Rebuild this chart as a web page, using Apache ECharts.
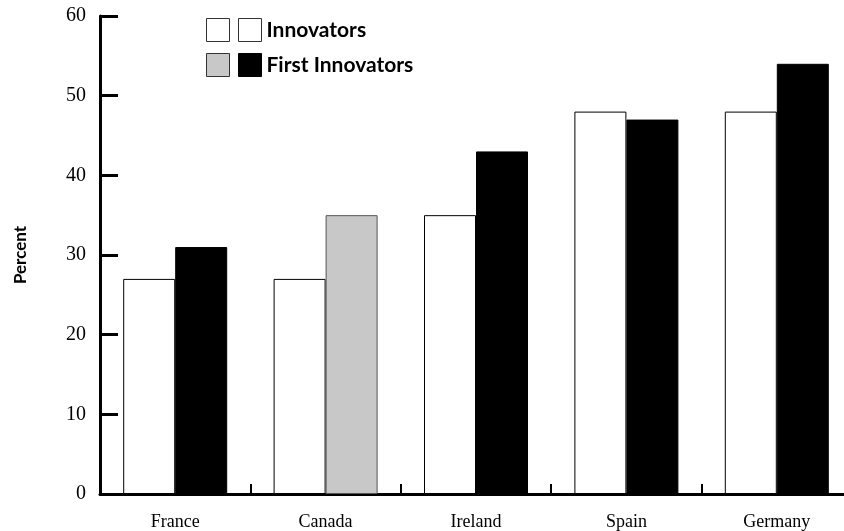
<!DOCTYPE html>
<html>
<head>
<meta charset="utf-8">
<script src="https://cdn.jsdelivr.net/npm/echarts@6/dist/echarts.min.js"></script>
<style>html,body{margin:0;padding:0;background:#fff;}#c{width:844px;height:531px;}</style>
</head>
<body>
<div id="c"></div>
<script>
var categories = ['France', 'Canada', 'Ireland', 'Spain', 'Germany'];
var innovators = [27, 27, 35, 48, 48];
var firstInnovators = [31, 35, 43, 47, 54];
var yTicks = [0, 10, 20, 30, 40, 50, 60];
var grayCategory = 'Canada';

var chart = echarts.init(document.getElementById('c'), null, {renderer: 'canvas'});
var serif = '"Liberation Serif", "DejaVu Serif", serif';
var sans = 'Lato, "Open Sans", sans-serif';

var firstData = firstInnovators.map(function (v, i) {
  if (categories[i] === grayCategory) {
    return {value: v, itemStyle: {color: '#c8c8c8', borderColor: '#555', borderWidth: 1}};
  }
  return v;
});

chart.setOption({
  animation: false,
  backgroundColor: '#fff',
  grid: {left: 100, top: 16, bottom: 37, width: 752, outerBoundsMode: 'none', containLabel: false},
  legend: [
    {
      left: 201, top: 13, orient: 'vertical', itemWidth: 23, itemHeight: 23, itemGap: 11,
      selectedMode: false,
      data: [
        {name: 'legWhite', icon: 'rect', itemStyle: {color: '#fff', borderColor: '#333', borderWidth: 1}},
        {name: 'legGray', icon: 'rect', itemStyle: {color: '#c8c8c8', borderColor: '#333', borderWidth: 1}}
      ],
      formatter: function () { return ''; }
    },
    {
      left: 233, top: 13, orient: 'vertical', itemWidth: 23, itemHeight: 23, itemGap: 11,
      selectedMode: false,
      textStyle: {fontFamily: sans, fontWeight: 'bold', fontSize: 21, color: '#000', lineHeight: 23},
      data: [
        {name: 'Innovators', icon: 'rect', itemStyle: {color: '#fff', borderColor: '#333', borderWidth: 1}},
        {name: 'First Innovators', icon: 'rect', itemStyle: {color: '#000', borderColor: '#000', borderWidth: 1}}
      ]
    }
  ],
  xAxis: {
    type: 'category',
    data: categories,
    axisLine: {show: true, lineStyle: {color: '#000', width: 3}},
    axisTick: {show: true, inside: true, length: 10, lineStyle: {color: '#000', width: 2}, interval: 0},
    axisLabel: {fontFamily: serif, fontSize: 18, color: '#000', margin: 19}
  },
  yAxis: {
    type: 'value', min: yTicks[0], max: yTicks[yTicks.length - 1], interval: 10,
    name: 'Percent', nameLocation: 'middle', nameGap: 71,
    nameTextStyle: {fontFamily: sans, fontWeight: 'bold', fontSize: 17, color: '#000'},
    axisLine: {show: true, lineStyle: {color: '#000', width: 3}},
    axisTick: {show: true, inside: true, length: 18, lineStyle: {color: '#000', width: 3}},
    splitLine: {show: false},
    axisLabel: {fontFamily: serif, fontSize: 20, color: '#000', margin: 14}
  },
  series: [
    {name: 'Innovators', type: 'bar', data: innovators, barWidth: 52, barGap: '0%',
      itemStyle: {color: '#fff', borderColor: '#000', borderWidth: 1}},
    {name: 'First Innovators', type: 'bar', data: firstData, barWidth: 52,
      itemStyle: {color: '#000', borderColor: '#000', borderWidth: 1}},
    {name: 'legWhite', type: 'line', data: []},
    {name: 'legGray', type: 'line', data: []}
  ]
});
</script>
</body>
</html>
